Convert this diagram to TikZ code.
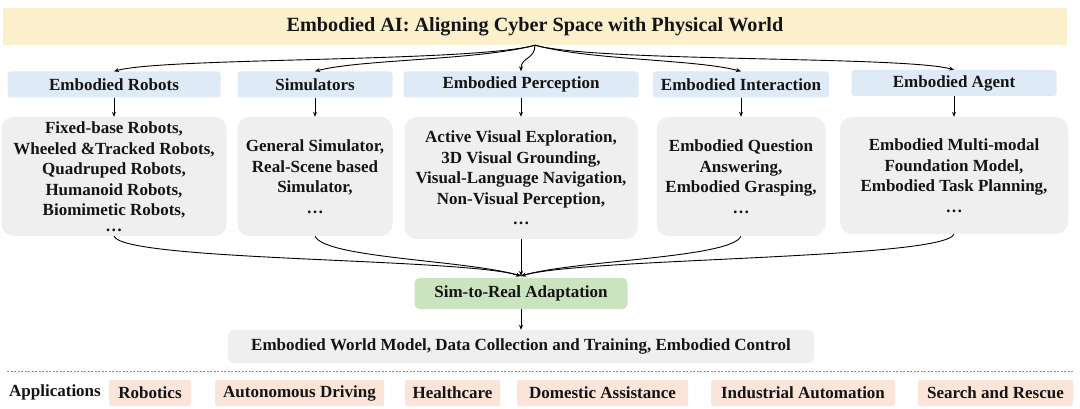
\documentclass[tikz,border=0pt]{standalone}
\usepackage{fontspec}
\setmainfont{Liberation Serif}
\usetikzlibrary{arrows.meta}
\definecolor{titlebg}{HTML}{FCF0CC}
\definecolor{headbg}{HTML}{DEEAF6}
\definecolor{contbg}{HTML}{EFEFEF}
\definecolor{simbg}{HTML}{C9E4BE}
\definecolor{appbg}{HTML}{FBE5D8}
\definecolor{txt}{HTML}{141414}
\definecolor{sepgray}{HTML}{8A8A8A}
\begin{document}
\begin{tikzpicture}[x=1pt,y=-1pt,
  every node/.style={font=\fontsize{17}{20.5}\selectfont\bfseries, text=txt, inner sep=0pt, align=center},
  titlebox/.style={fill=titlebg, minimum width=1064pt, minimum height=37pt},
  headbox/.style={fill=headbg, minimum height=26pt, rounded corners=3pt},
  contbox/.style={fill=contbg, rounded corners=12pt},
  simbox/.style={fill=simbg, minimum width=213pt, minimum height=31pt, rounded corners=5pt},
  appbox/.style={fill=appbg, minimum height=26pt, rounded corners=2pt},
  conn/.style={draw=black, line width=0.9pt, -{Stealth[length=5pt,width=4pt]}},
  sepline/.style={draw=sepgray, line width=0.6pt, dash pattern=on 2pt off 1.5pt}
]
\fill[white] (0,0) rectangle (1080,409);
\useasboundingbox (0,0) rectangle (1080,409);

% title
\node[titlebox] (title) at (535,26.5) {\fontsize{20.2}{22}\selectfont Embodied AI: Aligning Cyber Space with Physical World};

% headers
\node[headbox, minimum width=213pt] (hR) at (114,84.5) {Embodied Robots};
\node[headbox, minimum width=155pt] (hS) at (315,84.5) {Simulators};
\node[headbox, minimum width=235pt] (hP) at (521,84.5) {Embodied Perception};
\node[headbox, minimum width=176pt] (hI) at (741,84.5) {Embodied Interaction};
\node[headbox, minimum width=205pt] (hA) at (954,83) {Embodied Agent};

% content boxes
\node[contbox, minimum width=225pt, minimum height=119pt] (cR) at (114,176.5)
  {Fixed-base Robots,\\ Wheeled \&Tracked Robots,\\ Quadruped Robots,\\ Humanoid Robots,\\ Biomimetic Robots,\\[-5pt] …};
\node[contbox, minimum width=155pt, minimum height=119pt] (cS) at (315,176.5)
  {General Simulator,\\ Real-Scene based\\ Simulator,\\ …};
\node[contbox, minimum width=233pt, minimum height=122pt] (cP) at (521,178)
  {Active Visual Exploration,\\ 3D Visual Grounding,\\ Visual-Language Navigation,\\ Non-Visual Perception,\\ …};
\node[contbox, minimum width=169pt, minimum height=119pt] (cI) at (741,176.5)
  {Embodied Question\\ Answering,\\ Embodied Grasping,\\ …};
\node[contbox, minimum width=228pt, minimum height=117pt] (cA) at (954,175.5)
  {Embodied Multi-modal\\ Foundation Model,\\ Embodied Task Planning,\\ …};

% sim-to-real and bottom
\coordinate (conv) at (521,276);
\node[simbox] (sim) at (521,293.5) {Sim-to-Real Adaptation};
\node[contbox, rounded corners=6pt, minimum width=586pt, minimum height=33pt] (bot) at (521,346.5)
  {Embodied World Model, Data Collection and Training, Embodied Control};

% separator
\draw[sepline] (7,371) -- (1073,371);

% applications
\node (app) at (55,392.5) {Applications};
\node[appbox, minimum width=82pt] (a1) at (150,393) {Robotics};
\node[appbox, minimum width=169pt] (a2) at (299.5,393) {Autonomous Driving};
\node[appbox, minimum width=95pt] (a3) at (452.5,393) {Healthcare};
\node[appbox, minimum width=171pt] (a4) at (602.5,393) {Domestic Assistance};
\node[appbox, minimum width=184pt] (a5) at (803,393) {Industrial Automation};
\node[appbox, minimum width=155pt] (a6) at (995.5,393) {Search and Rescue};

% top fan-out
\draw[conn] (title.south) .. controls +(-60,17) and +(50,-14) .. (hR.north);
\draw[conn] (title.south) .. controls +(-55,15) and +(45,-12) .. (hS.north);
\draw[conn] (title.south) .. controls +(0,14) and +(0,-14) .. (hP.north);
\draw[conn] (title.south) .. controls +(55,15) and +(-45,-12) .. (hI.north);
\draw[conn] (title.south) .. controls +(60,17) and +(-50,-14) .. (hA.north);

% header to content
\draw[conn] (hR.south) -- (cR.north);
\draw[conn] (hS.south) -- (cS.north);
\draw[conn] (hP.south) -- (cP.north);
\draw[conn] (hI.south) -- (cI.north);
\draw[conn] (hA.south) -- (cA.north);

% fan-in
\draw[conn] (cR.south) .. controls +(10,25) and +(-60,-18) .. (conv);
\draw[conn] (cS.south) .. controls +(10,22) and +(-55,-16) .. (conv);
\draw[conn] (cP.south) -- (conv);
\draw[conn] (cI.south) .. controls +(-10,22) and +(55,-16) .. (conv);
\draw[conn] (cA.south) .. controls +(-10,25) and +(60,-18) .. (conv);

% sim to bottom
\draw[conn] (sim.south) -- (bot.north);
\end{tikzpicture}
\end{document}
